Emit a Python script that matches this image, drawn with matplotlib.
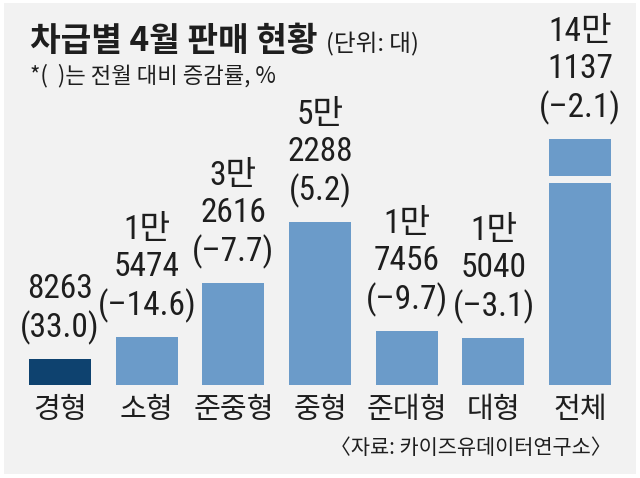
import matplotlib
matplotlib.use("Agg")
import matplotlib.pyplot as plt
from matplotlib import font_manager
from matplotlib.patches import Rectangle

# data
categories = ['경형', '소형', '준중형', '중형', '준대형', '대형', '전체']
sales = [8263, 15474, 32616, 52288, 17456, 15040, 141137]
change = [33.0, -14.6, -7.7, 5.2, -9.7, -3.1, -2.1]

# the total bar is drawn cut (axis break)
BREAK_CAP = 79000
BREAK_GAP = (64700, 67000)

BG = '#f2f2f2'
BAR = '#6b9bc9'
BAR_DARK = '#0e426f'
INK = '#1e1e1e'

KR_FONT = ['Noto Sans CJK KR', 'DejaVu Sans']

# narrow face for the numbers if one is installed
installed = {f.name for f in font_manager.fontManager.ttflist}
narrow = [n for n in ['Liberation Sans Narrow', 'Roboto Condensed',
                      'Open Sans Condensed', 'DejaVu Sans Condensed']
          if n in installed]
NUM_FONT = narrow[:1] + KR_FONT
num_size = 24 if narrow else 21
num_spacing = 1.2 if narrow else 1.3


def value_label(v, c):
    if v >= 10000:
        head = f"{v // 10000}만\n{v % 10000:04d}"
    else:
        head = f"{v}"
    pct = f"({c:.1f})".replace('-', '–')
    return head + "\n" + pct


fig = plt.figure(figsize=(6.4, 4.78), dpi=100)
fig.patch.set_facecolor('white')
fig.patches.append(Rectangle((4 / 640, 4 / 478), 632 / 640, 471 / 478,
                             transform=fig.transFigure, facecolor=BG,
                             edgecolor='none', zorder=-5))

ax = fig.add_axes([0, 93 / 478, 1, 385 / 478])
ax.set_facecolor('none')
ax.set_xlim(-0.692, 6.69)
ax.set_ylim(0, 123400)
ax.axis('off')

xs = list(range(len(categories)))
heights = [min(v, BREAK_CAP) for v in sales]
colors = [BAR_DARK] + [BAR] * (len(categories) - 1)
ax.bar(xs, heights, width=0.715, color=colors, zorder=2)

# break gap on the total bar
last = len(categories) - 1
ax.bar([last], [BREAK_GAP[1] - BREAK_GAP[0]], bottom=BREAK_GAP[0],
       width=0.74, color=BG, zorder=3)

for x, h, v, c in zip(xs, heights, sales, change):
    ax.annotate(value_label(v, c), xy=(x, h), xytext=(0, 10),
                textcoords='offset points', ha='center', va='bottom',
                fontsize=num_size, family=NUM_FONT, color=INK,
                linespacing=num_spacing, annotation_clip=False)

for x, name in zip(xs, categories):
    ax.text(x, -8000, name, ha='center', va='center', fontsize=21,
            fontweight='medium', family=KR_FONT, color=INK, clip_on=False)

fig.text(30 / 640, 1 - 42 / 478, '차급별 4월 판매 현황', ha='left', va='center',
         fontsize=24, fontweight='bold', family=KR_FONT, color=INK)
fig.text(326 / 640, 1 - 44 / 478, '(단위: 대)', ha='left', va='center',
         fontsize=17, family=KR_FONT, color=INK)
fig.text(30 / 640, 1 - 76 / 478, '*(  )는 전월 대비 증감률, %', ha='left',
         va='center', fontsize=16, family=KR_FONT, color=INK)
fig.text(612 / 640, 1 - 448 / 478, '〈자료: 카이즈유데이터연구소〉', ha='right',
         va='center', fontsize=15, family=KR_FONT, color=INK)

fig.savefig('out.png', dpi=100, facecolor=fig.get_facecolor())
